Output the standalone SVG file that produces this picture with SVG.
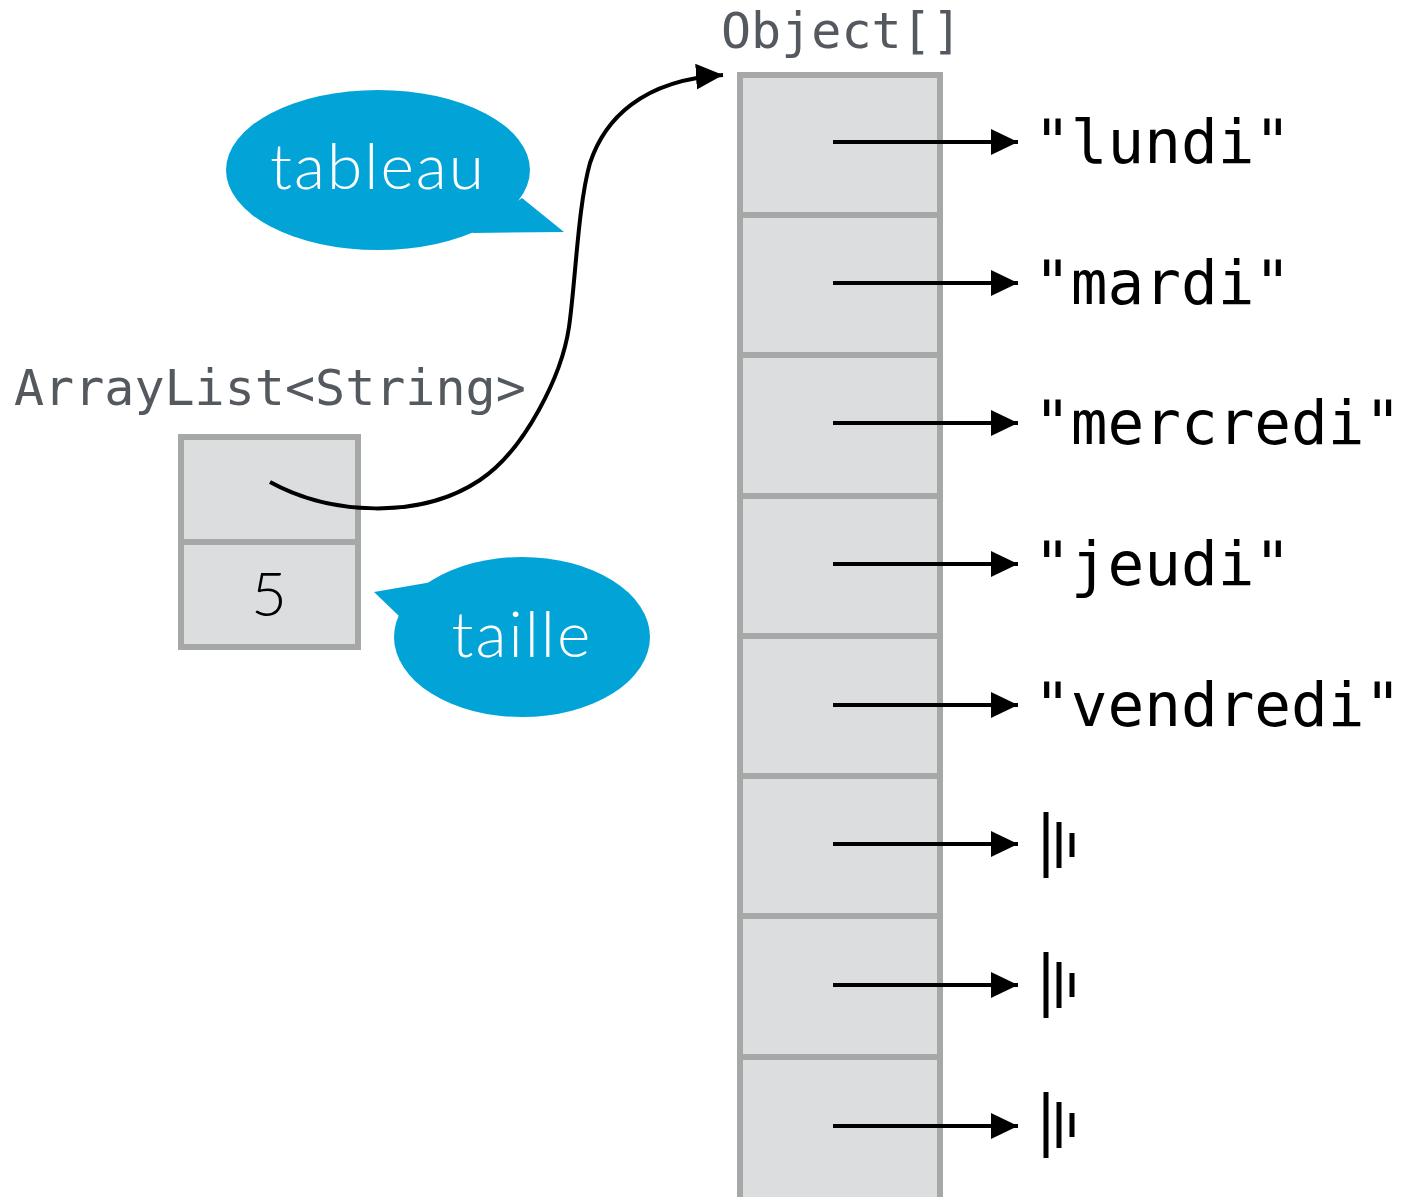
<svg xmlns="http://www.w3.org/2000/svg" width="1402" height="1197" viewBox="0 0 1402 1197">
<style>
.cell{fill:#dcdddf;stroke:#a5a8a7;stroke-width:6}
.div{stroke:#a5a8a7;stroke-width:6}
.type{font-family:"DejaVu Sans Mono",monospace;fill:#54595f;font-size:50px}
.str{font-family:"DejaVu Sans Mono",monospace;fill:#000;font-size:61px}
.bub{fill:#02a4d8}
.btxt{font-family:"Lato","Noto Sans",sans-serif;font-weight:300;fill:#fff;font-size:64px;letter-spacing:2px;text-anchor:middle}
.ptr{stroke:#000;stroke-width:4;fill:none}
</style>
<defs>
<marker id="ah" markerWidth="27" markerHeight="26" refX="27" refY="13" orient="auto" markerUnits="userSpaceOnUse">
<path d="M0,0 L27,13 L0,26 Z" fill="#000"/>
</marker>
<g id="null">
<rect x="-2.5" y="-33" width="5" height="66"/>
<rect x="10.5" y="-23" width="5" height="46"/>
<rect x="23.5" y="-12" width="5" height="24"/>
</g>
</defs>

<g id="arraylist">
<text class="type" x="14" y="405">ArrayList&lt;String&gt;</text>
<rect class="cell" x="181" y="437" width="177" height="210"/>
<line class="div" x1="181" y1="542" x2="358" y2="542"/>
<text x="269" y="616" font-family="Lato,'Noto Sans',sans-serif" font-weight="300" font-size="62" text-anchor="middle" fill="#000">5</text>
</g>

<g id="objarray">
<text class="type" x="721" y="48">Object[]</text>
<rect class="cell" x="740" y="75" width="200" height="1130"/>
<line class="div" x1="740" y1="215" x2="940" y2="215"/>
<line class="div" x1="740" y1="355" x2="940" y2="355"/>
<line class="div" x1="740" y1="496" x2="940" y2="496"/>
<line class="div" x1="740" y1="636" x2="940" y2="636"/>
<line class="div" x1="740" y1="776" x2="940" y2="776"/>
<line class="div" x1="740" y1="916" x2="940" y2="916"/>
<line class="div" x1="740" y1="1057" x2="940" y2="1057"/>
</g>

<g id="values">
<text class="str" x="1034" y="163">"lundi"</text>
<text class="str" x="1034" y="304">"mardi"</text>
<text class="str" x="1034" y="444">"mercredi"</text>
<text class="str" x="1034" y="585">"jeudi"</text>
<text class="str" x="1034" y="726">"vendredi"</text>
<use href="#null" x="1046" y="845"/>
<use href="#null" x="1046" y="985"/>
<use href="#null" x="1046" y="1125"/>
</g>

<g id="bubble-tableau">
<path class="bub" d="M522,198 L564,232 L472,233 Z"/>
<ellipse class="bub" cx="378" cy="170" rx="152" ry="80"/>
<text class="btxt" x="378" y="189">tableau</text>
</g>

<g id="bubble-taille">
<path class="bub" d="M432,582 L374,592 L400,617 Z"/>
<ellipse class="bub" cx="522" cy="637" rx="128" ry="80"/>
<text class="btxt" x="522" y="657">taille</text>
</g>

<g id="connectors">
<path class="ptr" marker-end="url(#ah)" d="M270,482 C330,515 420,520 480,480 C525,450 562,375 569,327 C575.4,283 578,205 590,163 C604,121 640,80 723,75"/>
<line class="ptr" marker-end="url(#ah)" x1="833" y1="142" x2="1018" y2="142"/>
<line class="ptr" marker-end="url(#ah)" x1="833" y1="283" x2="1018" y2="283"/>
<line class="ptr" marker-end="url(#ah)" x1="833" y1="423" x2="1018" y2="423"/>
<line class="ptr" marker-end="url(#ah)" x1="833" y1="564" x2="1018" y2="564"/>
<line class="ptr" marker-end="url(#ah)" x1="833" y1="705" x2="1018" y2="705"/>
<line class="ptr" marker-end="url(#ah)" x1="833" y1="844" x2="1018" y2="844"/>
<line class="ptr" marker-end="url(#ah)" x1="833" y1="985" x2="1018" y2="985"/>
<line class="ptr" marker-end="url(#ah)" x1="833" y1="1126" x2="1018" y2="1126"/>
</g>
</svg>
